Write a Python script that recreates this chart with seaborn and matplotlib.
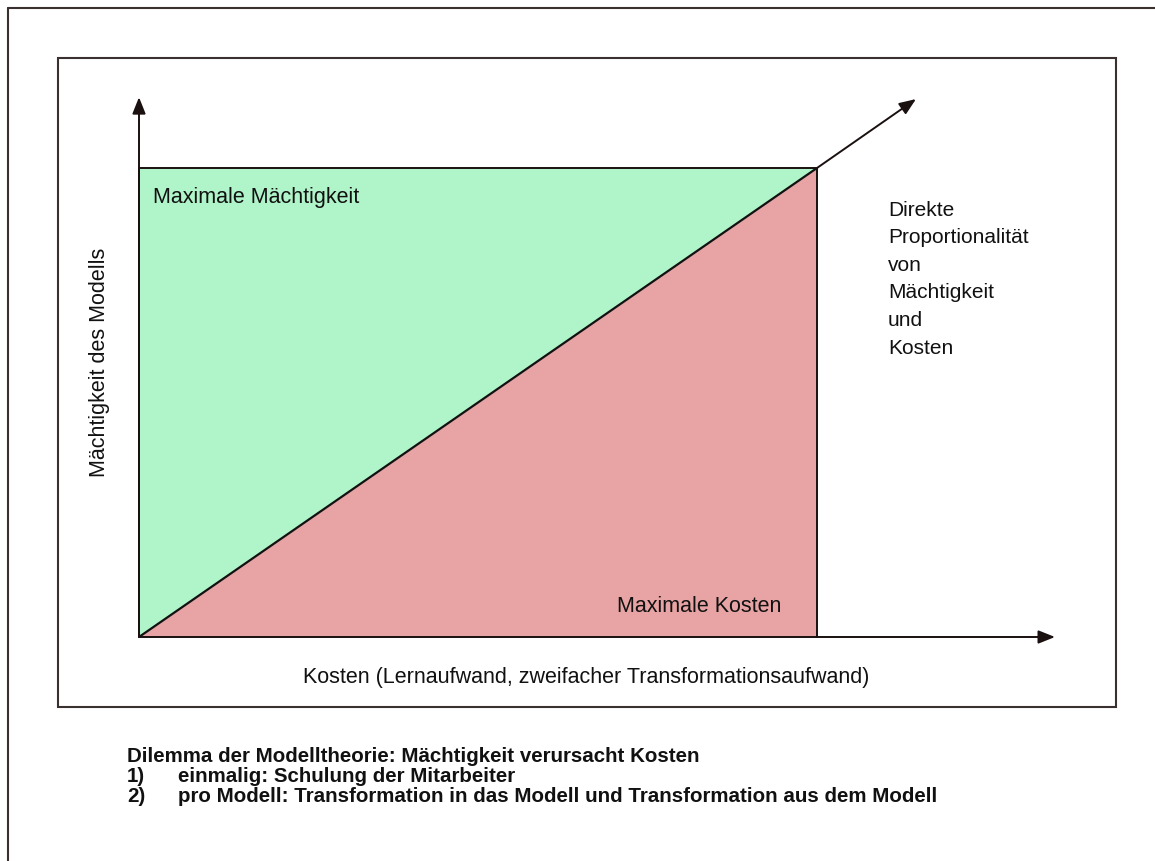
import numpy as np
import pandas as pd
import seaborn as sns
import matplotlib.pyplot as plt
from matplotlib.patches import Rectangle
from matplotlib.lines import Line2D

# --- data ---
kosten = [0.0, 1.0]          # normierte Kosten
maechtigkeit = [0.0, 1.0]    # normierte Mächtigkeit (direkt proportional)
max_level = 1.0

label_x = "Kosten (Lernaufwand, zweifacher Transformationsaufwand)"
label_y = "Mächtigkeit des Modells"
label_green = "Maximale Mächtigkeit"
label_red = "Maximale Kosten"
side_lines = ["Direkte", "Proportionalität", "von", "Mächtigkeit", "und", "Kosten"]
caption_title = "Dilemma der Modelltheorie: Mächtigkeit verursacht Kosten"
caption_nums = ["1)", "2)"]
caption_items = ["einmalig: Schulung der Mitarbeiter",
                 "pro Modell: Transformation in das Modell und Transformation aus dem Modell"]

df = pd.DataFrame({"Kosten": kosten, "Maechtigkeit": maechtigkeit})

sns.set_style("white")
plt.rcParams['font.family'] = ['Liberation Sans', 'DejaVu Sans']

W, H = 1155, 861
fig = plt.figure(figsize=(W / 100, H / 100), dpi=100)

# frames
fig.add_artist(Line2D([8 / W, 8 / W], [0, 1 - 8 / H], transform=fig.transFigure, color='#3a3030', lw=1.5))
fig.add_artist(Line2D([8 / W, 1], [1 - 8 / H, 1 - 8 / H], transform=fig.transFigure, color='#3a3030', lw=1.5))
fig.add_artist(Rectangle((58 / W, 1 - 707 / H), (1116 - 58) / W, (707 - 58) / H,
                         transform=fig.transFigure, fill=False, ec='#3a3030', lw=1.5))

# axes: origin at (139, 637) px, data 1.0 at (817, 168) px
ux = (817 - 139) / W
uy = (637 - 168) / H
ax = fig.add_axes([139 / W, 1 - 637 / H, ux, uy])
ax.set_xlim(0, 1)
ax.set_ylim(0, 1)
ax.axis('off')

x = np.array(df["Kosten"])
y = np.array(df["Maechtigkeit"])
ax.fill_between(x, y, max_level, color='#b0f5c9', lw=0)
ax.fill_between(x, 0, y, color='#e8a4a4', lw=0)
ax.plot([0, 0, 1, 1], [0, max_level, max_level, 0], color='#1a1010', lw=1.4, clip_on=False)
sns.lineplot(data=df, x="Kosten", y="Maechtigkeit", color='#111111', lw=1.6, ax=ax)

arrow = dict(arrowstyle='-|>,head_length=1.0,head_width=0.4', color='#1a1010', lw=1.4,
             shrinkA=0, shrinkB=0)
ax.annotate('', xy=(1.351, 0), xytext=(0, 0), arrowprops=arrow, annotation_clip=False)
ax.annotate('', xy=(0, 1.151), xytext=(0, 0), arrowprops=arrow, annotation_clip=False)
ax.annotate('', xy=(1.146, 1.147), xytext=(1, 1), arrowprops=arrow, annotation_clip=False)
ax.set_xlabel('')
ax.set_ylabel('')

fs = 15.5
tc = '#111111'
fig.text(153 / W, 1 - 198 / H, label_green, fontsize=fs, va='center', ha='left', color=tc)
fig.text(617 / W, 1 - 607 / H, label_red, fontsize=fs, va='center', ha='left', color=tc)
fig.text(586 / W, 1 - 677 / H, label_x, fontsize=fs, va='center', ha='center', color=tc)
fig.text(99 / W, 1 - 362 / H, label_y, fontsize=fs, va='center', ha='center', rotation=90, color=tc)

for i, line in enumerate(side_lines):
    fig.text(888 / W, 1 - (210 + i * 27.6) / H, line, fontsize=15, va='center', ha='left', color=tc)

fb = 14.8
fig.text(127 / W, 1 - 757 / H, caption_title, fontsize=fb, fontweight='bold', va='center', color=tc)
for i, (n, item) in enumerate(zip(caption_nums, caption_items)):
    yy = 1 - (777 + i * 20) / H
    fig.text(127 / W, yy, n, fontsize=fb, fontweight='bold', va='center', color=tc)
    fig.text(178 / W, yy, item, fontsize=fb, fontweight='bold', va='center', color=tc)

fig.savefig('out.png', dpi=100, facecolor='white')
